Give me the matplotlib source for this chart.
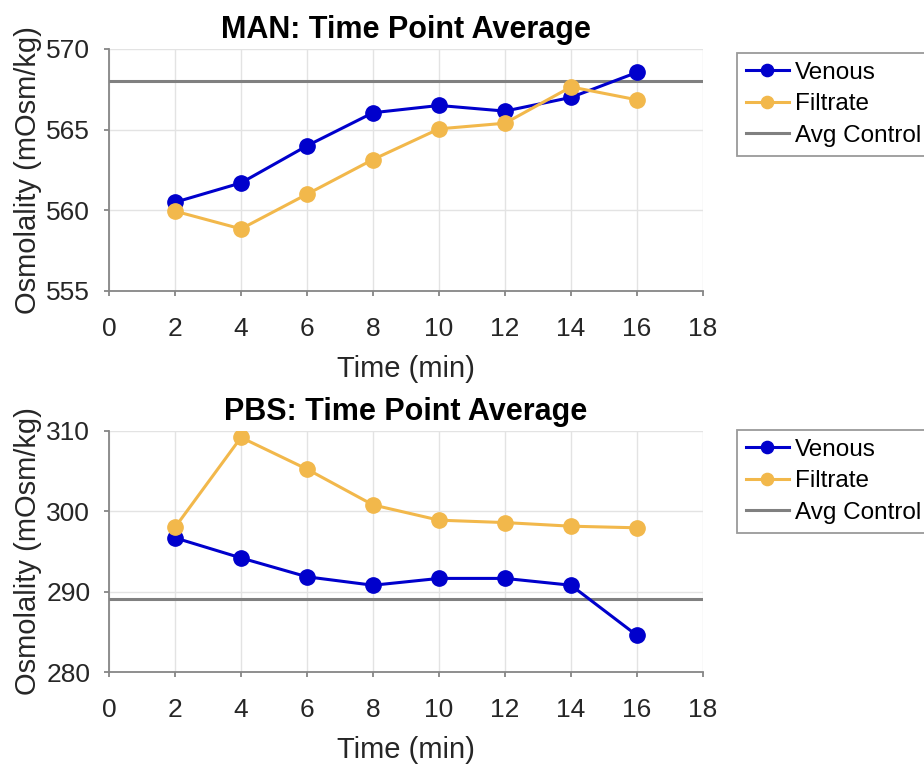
import matplotlib.pyplot as plt

plt.rcParams['font.family'] = ['Liberation Sans', 'DejaVu Sans']

# Time points (min)
time = [2, 4, 6, 8, 10, 12, 14, 16]

# MAN osmolality (mOsm/kg)
man_venous = [560.5, 561.7, 564.0, 566.05, 566.5, 566.15, 567.0, 568.55]
man_filtrate = [559.95, 558.85, 561.0, 563.15, 565.05, 565.4, 567.65, 566.85]
man_control = 568.0

# PBS osmolality (mOsm/kg)
pbs_venous = [296.7, 294.2, 291.85, 290.8, 291.65, 291.65, 290.8, 284.55]
pbs_filtrate = [298.0, 309.2, 305.25, 300.8, 298.9, 298.6, 298.15, 297.95]
pbs_control = 289.1

titles = ['MAN: Time Point Average', 'PBS: Time Point Average']
ylims = [(555, 570), (280, 310)]
yticks = [[555, 560, 565, 570], [280, 290, 300, 310]]

venous_color = '#0000CC'
filtrate_color = '#F2B84B'
control_color = '#808080'
axis_color = '#868686'

fig = plt.figure(figsize=(9.24, 7.67), dpi=100)
W, H = 924, 767
ax1 = fig.add_axes([109 / W, 1 - 291 / H, 594 / W, 242 / H])
ax2 = fig.add_axes([109 / W, 1 - 672 / H, 594 / W, 241 / H])

panels = [
    (ax1, man_venous, man_filtrate, man_control, 53),
    (ax2, pbs_venous, pbs_filtrate, pbs_control, 430),
]

for i, (ax, ven, fil, ctrl, leg_top) in enumerate(panels):
    ax.plot(time, ven, color=venous_color, lw=2.2, marker='o', ms=11,
            label='Venous', zorder=3)
    ax.plot(time, fil, color=filtrate_color, lw=2.2, marker='o', ms=11,
            label='Filtrate', zorder=4)
    ax.axhline(ctrl, color=control_color, lw=2.2, label='Avg Control', zorder=2)

    ax.set_xlim(0, 18)
    ax.set_ylim(*ylims[i])
    ax.set_xticks(range(0, 19, 2))
    ax.set_yticks(yticks[i])
    ax.grid(True, color='#E3E3E3', lw=1)
    ax.set_axisbelow(True)
    for side in ['top', 'right']:
        ax.spines[side].set_visible(False)
    for side in ['left', 'bottom']:
        ax.spines[side].set_color(axis_color)
        ax.spines[side].set_linewidth(1.3)
    ax.tick_params(labelsize=19, length=3.5, color=axis_color, width=1.3,
                   labelcolor='#262626')
    ax.tick_params(axis='x', pad=15)
    ax.tick_params(axis='y', pad=10)
    ax.set_xlabel('Time (min)', fontsize=21, labelpad=10, color='#262626')
    ax.set_ylabel('Osmolality (mOsm/kg)', fontsize=21, labelpad=3,
                  color='#262626')
    ax.set_title(titles[i], fontsize=22, fontweight='bold', pad=8)

    leg = ax.legend(loc='upper left', bbox_to_anchor=(737 / W, 1 - leg_top / H),
                    bbox_transform=fig.transFigure, fontsize=17.5, frameon=True,
                    fancybox=False, edgecolor='#808080', handlelength=1.8,
                    handletextpad=0.25, borderpad=0.35, labelspacing=0.4,
                    borderaxespad=0, markerscale=0.8)
    leg.get_frame().set_linewidth(1.3)

fig.savefig('out.png', dpi=100)
